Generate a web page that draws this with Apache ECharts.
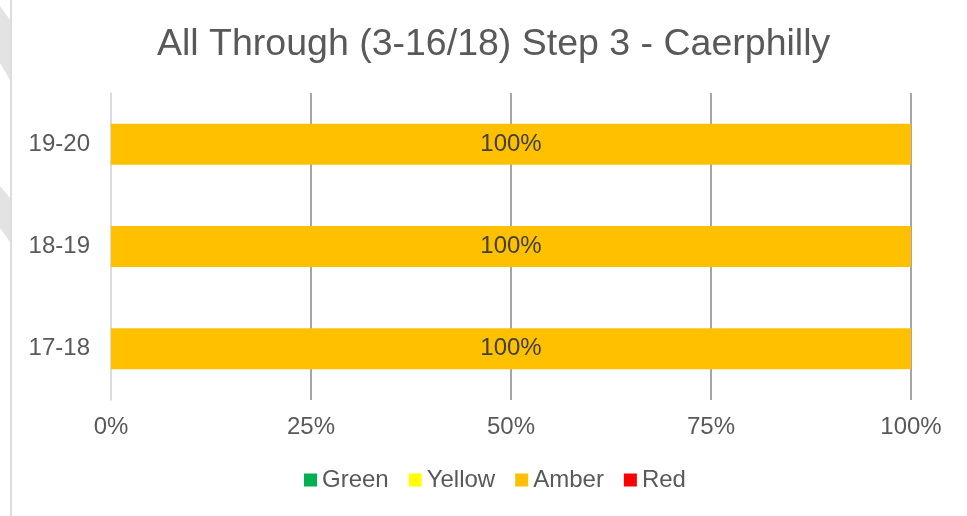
<!DOCTYPE html>
<html>
<head>
<meta charset="utf-8">
<script src="https://cdn.jsdelivr.net/npm/echarts@6/dist/echarts.min.js"></script>
<style>html,body{margin:0;padding:0;background:#fff}#c{width:967px;height:516px}</style>
</head>
<body>
<div id="c"></div>
<script>
var titleText = 'All Through (3-16/18) Step 3 - Caerphilly';
var categories = ['17-18', '18-19', '19-20'];
var greenValues = [0, 0, 0];
var yellowValues = [0, 0, 0];
var amberValues = [100, 100, 100];
var redValues = [0, 0, 0];
var seriesNames = ['Green', 'Yellow', 'Amber', 'Red'];
var seriesColors = ['#00b050', '#ffff00', '#ffc000', '#ff0000'];
var xTicks = [0, 25, 50, 75, 100];

var font = '"Liberation Sans", Arial, sans-serif';
var txt = '#595959';
var valuesList = [greenValues, yellowValues, amberValues, redValues];

var series = seriesNames.map(function (n, i) {
  return {
    name: n, type: 'bar', stack: 'total', barWidth: 41,
    data: valuesList[i],
    itemStyle: { color: seriesColors[i] },
    label: {
      show: true, position: 'inside', color: '#404040',
      fontFamily: font, fontSize: 24,
      formatter: function (p) { return p.value > 0 ? p.value + '%' : ''; }
    }
  };
});

var chart = echarts.init(document.getElementById('c'), null, { renderer: 'canvas' });
chart.setOption({
  backgroundColor: '#ffffff',
  animation: false,
  title: {
    text: titleText, left: 152, top: 21,
    textStyle: { fontFamily: font, fontSize: 37.5, fontWeight: 'normal', color: txt }
  },
  legend: {
    data: seriesNames, left: 299, top: 463,
    icon: 'rect', itemWidth: 13, itemHeight: 13, itemGap: 20,
    textStyle: { fontFamily: font, fontSize: 24, color: txt }
  },
  grid: { left: 111, right: 56, top: 93, bottom: 116, containLabel: false },
  xAxis: {
    type: 'value', min: 0, max: 100, interval: 25,
    axisLine: { show: false }, axisTick: { show: false },
    axisLabel: { formatter: function (v) { return xTicks.indexOf(v) >= 0 ? v + '%' : ''; }, fontFamily: font, fontSize: 24, color: txt, margin: 15 },
    splitLine: { show: true, lineStyle: { color: ['#d9d9d9', '#898989', '#898989', '#898989', '#898989'], width: 1.5 } }
  },
  yAxis: {
    type: 'category', data: categories,
    axisLine: { show: true, lineStyle: { color: '#d9d9d9', width: 1.5 } },
    axisTick: { show: false },
    axisLabel: { fontFamily: font, fontSize: 24, color: txt, margin: 21 }
  },
  graphic: [
    { type: 'line', shape: { x1: 11, y1: 0, x2: 11, y2: 516 }, style: { stroke: '#dcdcdc', lineWidth: 2 }, silent: true },
    { type: 'polygon', shape: { points: [[0, 6], [10, 20], [10, 80], [0, 63]] }, style: { fill: '#e3e3e3' }, silent: true },
    { type: 'polygon', shape: { points: [[0, 186], [10, 198], [10, 242], [0, 228]] }, style: { fill: '#e3e3e3' }, silent: true }
  ],
  series: series
});
</script>
</body>
</html>
